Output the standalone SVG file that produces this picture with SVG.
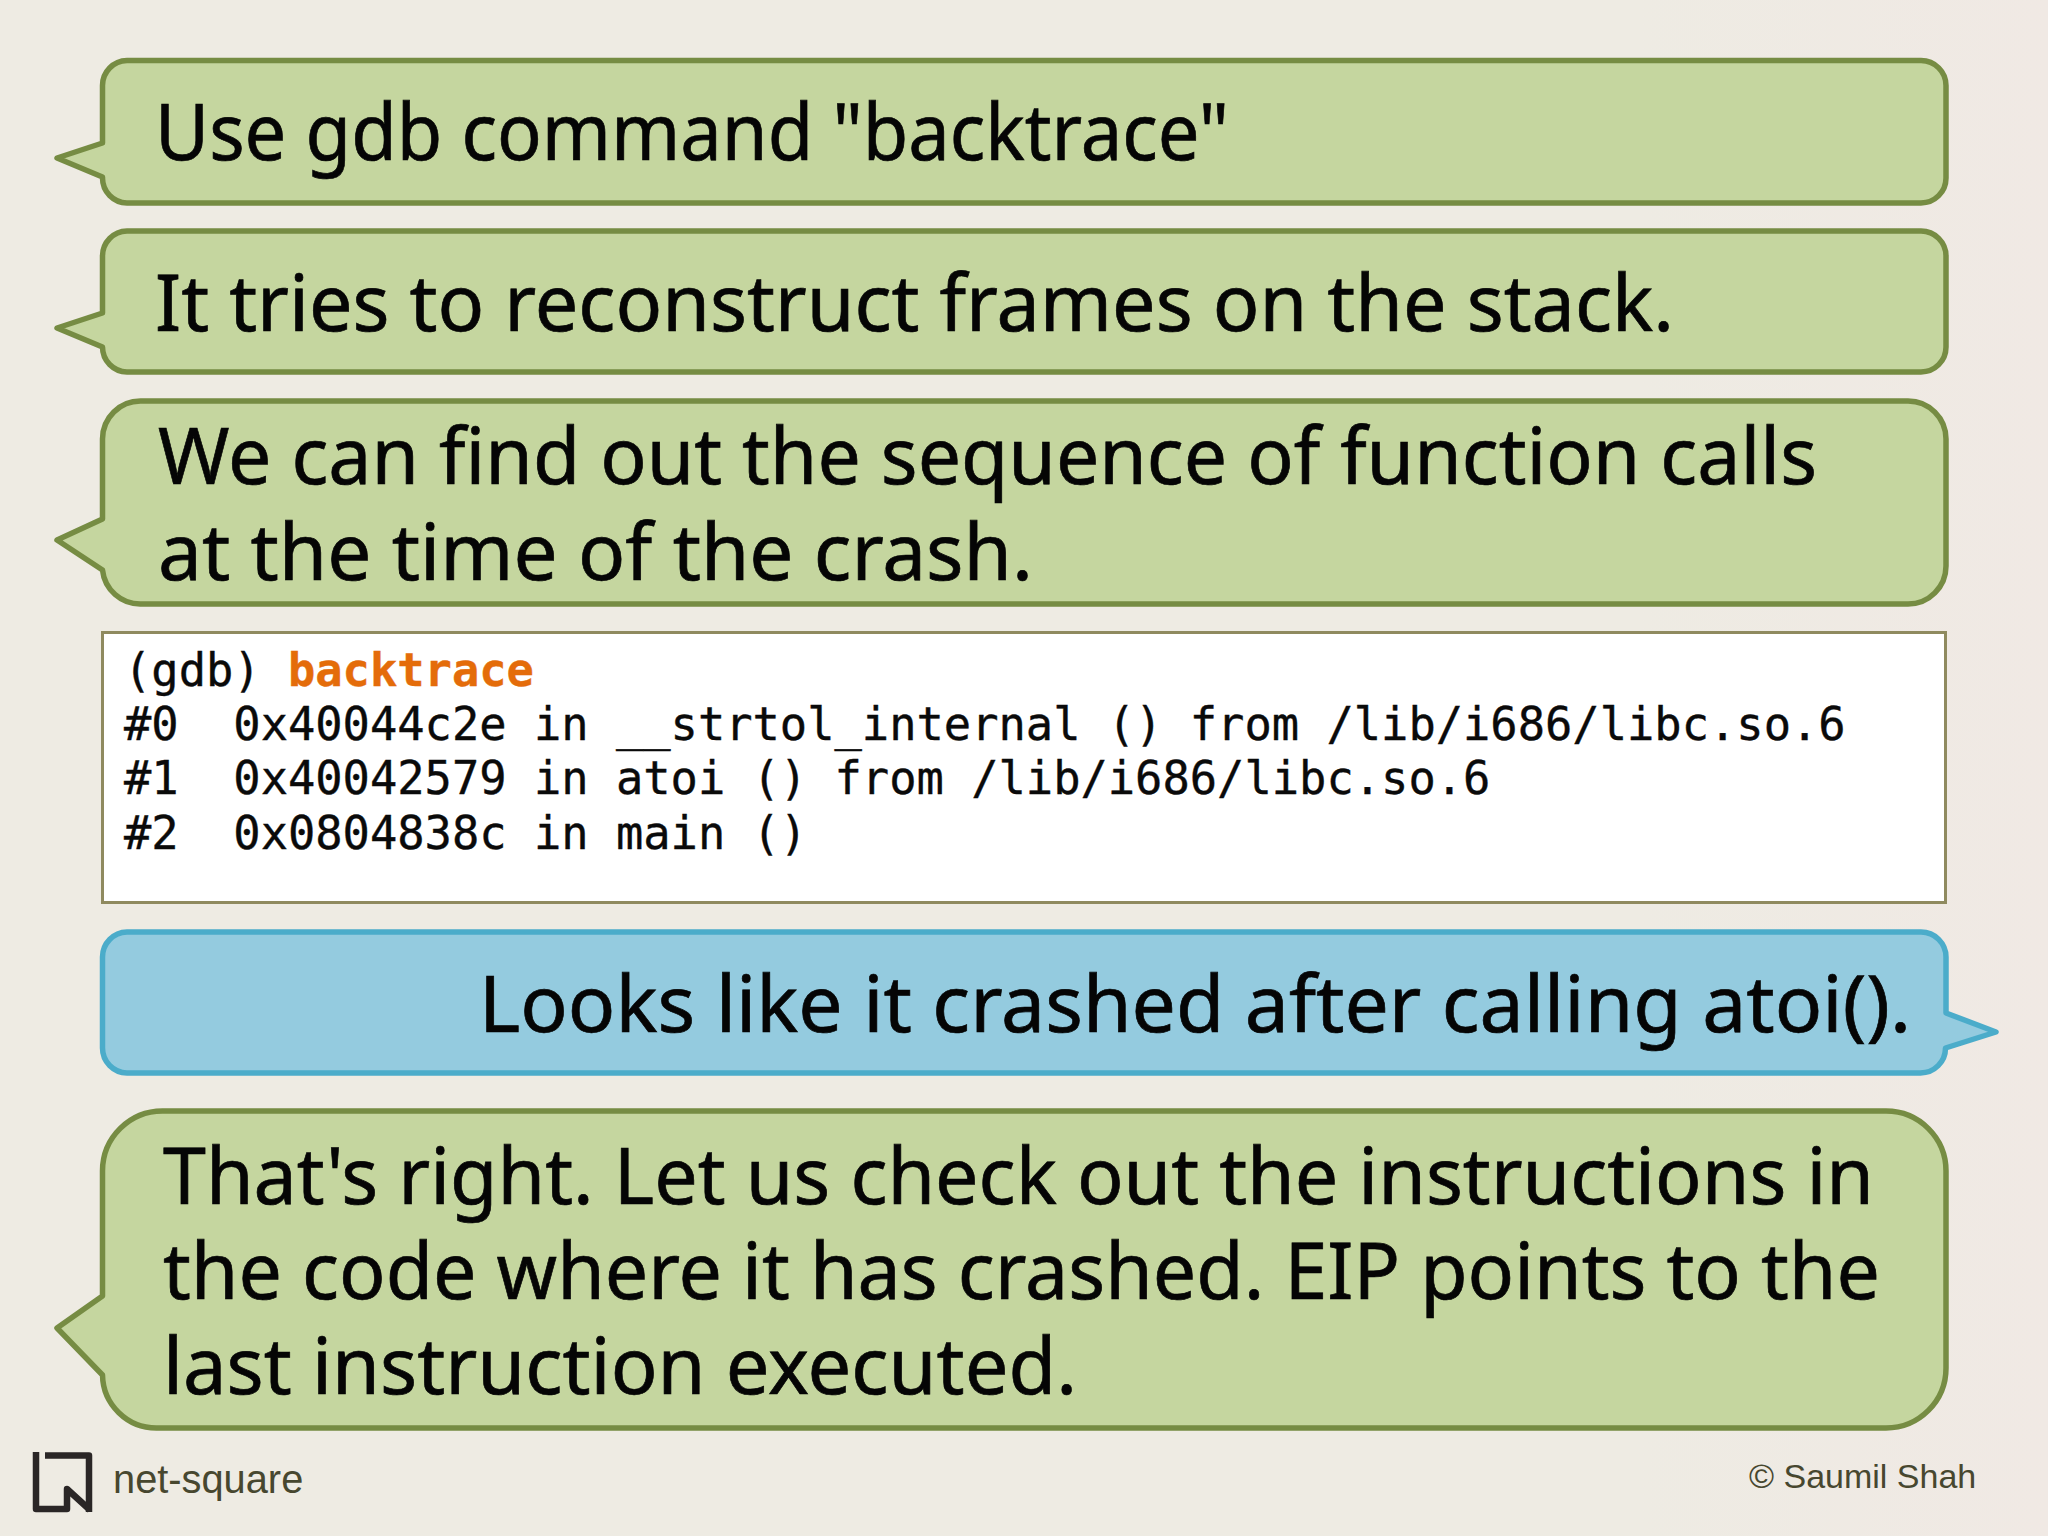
<svg xmlns="http://www.w3.org/2000/svg" width="2048" height="1536" viewBox="0 0 2048 1536">
<defs>
<linearGradient id="bg" x1="0" y1="0" x2="1" y2="0">
<stop offset="0" stop-color="#eeebe3"/>
<stop offset="0.8" stop-color="#eeebe3"/>
<stop offset="1" stop-color="#f0e9e4"/>
</linearGradient>
</defs>
<style>
.g{fill:#c5d69f;stroke:#768c43;stroke-width:5.5;stroke-linejoin:round}
.b{fill:#94cbdf;stroke:#4bacca;stroke-width:5.5;stroke-linejoin:round}
.t{font-family:"Noto Sans","Open Sans",sans-serif;font-size:79px;fill:#050505;stroke:#050505;stroke-width:.7}
.m{font-family:"DejaVu Sans Mono","Liberation Mono",monospace;font-size:45.4px;fill:#0a0a0a;stroke:#0a0a0a;stroke-width:.4;white-space:pre}
.f{font-family:"Liberation Sans",Arial,sans-serif;fill:#47472f}
</style>
<rect width="2048" height="1536" fill="url(#bg)"/>
<g id="bubble1">
<path class="g" d="M127 60.500H1921a25 25 0 0 1 25 25V178a25 25 0 0 1-25 25H127a25 25 0 0 1-24.500-25V177L57 158L102.500 143V85.500A25 25 0 0 1 127 60.500Z"/>
<text class="t" x="155" y="160" textLength="1074" lengthAdjust="spacingAndGlyphs">Use gdb command "backtrace"</text>
</g>
<g id="bubble2">
<path class="g" d="M127 231H1921a25 25 0 0 1 25 25V347a25 25 0 0 1-25 25H127a25 25 0 0 1-24.500-25V347L57 328L102.500 313V256A25 25 0 0 1 127 231Z"/>
<text class="t" x="155" y="331" textLength="1519" lengthAdjust="spacingAndGlyphs">It tries to reconstruct frames on the stack.</text>
</g>
<g id="bubble3">
<path class="g" d="M141 401H1908a38 38 0 0 1 38 38V566a38 38 0 0 1-38 38H141a38 38 0 0 1-38.500-34L57 540L102.500 519V439A38 38 0 0 1 141 401Z"/>
<text class="t" x="158" y="484" textLength="1659" lengthAdjust="spacingAndGlyphs">We can find out the sequence of function calls</text>
<text class="t" x="158" y="580" textLength="875" lengthAdjust="spacingAndGlyphs">at the time of the crash.</text>
</g>
<g id="code">
<rect x="102.500" y="632.500" width="1843" height="270" fill="#fff" stroke="#8f8a5f" stroke-width="3"/>
<text class="m" x="124" y="686">(gdb) <tspan fill="#e46c0a" stroke="#e46c0a" font-weight="bold">backtrace</tspan></text>
<text class="m" x="124" y="740">#0  0x40044c2e in __strtol_internal () from /lib/i686/libc.so.6</text>
<text class="m" x="124" y="794">#1  0x40042579 in atoi () from /lib/i686/libc.so.6</text>
<text class="m" x="124" y="849">#2  0x0804838c in main ()</text>
</g>
<g id="bubble4">
<path class="b" d="M127 932H1921a25 25 0 0 1 25 25V1013L1996 1032L1945.500 1048a25 25 0 0 1-25 25H127a25 25 0 0 1-24.500-25V957A25 25 0 0 1 127 932Z"/>
<text class="t" x="479" y="1032" textLength="1432" lengthAdjust="spacingAndGlyphs">Looks like it crashed after calling atoi().</text>
</g>
<g id="bubble5">
<path class="g" d="M163 1111H1886a60 60 0 0 1 60 60V1368a60 60 0 0 1-60 60H157a54 54 0 0 1-54.500-53L57 1328L102.500 1296V1171A60 60 0 0 1 163 1111Z"/>
<text class="t" x="163" y="1204" textLength="1711" lengthAdjust="spacingAndGlyphs">That's right. Let us check out the instructions in</text>
<text class="t" x="163" y="1299" textLength="1717" lengthAdjust="spacingAndGlyphs">the code where it has crashed. EIP points to the</text>
<text class="t" x="163" y="1394" textLength="914" lengthAdjust="spacingAndGlyphs">last instruction executed.</text>
</g>
<g id="logo" fill="none" stroke="#2a2626" stroke-width="6.500" stroke-linejoin="round">
<path d="M36 1452V1509H67V1489L90 1510"/>
<path d="M45 1455.500H89V1512"/>
<text class="f" x="113" y="1493" font-size="39.800" stroke="none">net-square</text>
</g>
<g id="credit">
<text class="f" x="1749" y="1488" font-size="34">© Saumil Shah</text>
</g>
</svg>
